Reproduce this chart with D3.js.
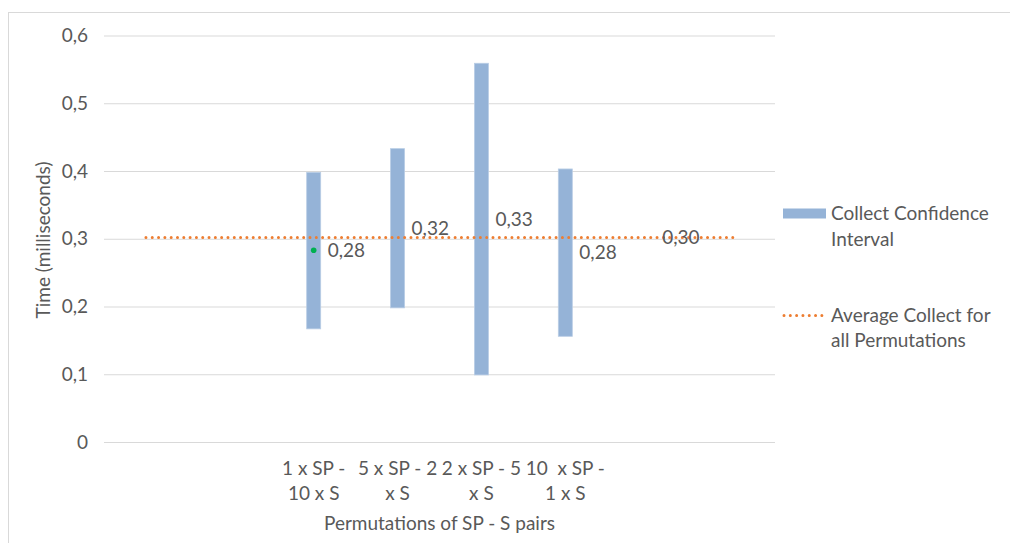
<!DOCTYPE html>
<html>
<head>
<meta charset="utf-8">
<script src="https://cdn.jsdelivr.net/npm/d3@7"></script>
<style>
  html, body { margin: 0; padding: 0; background: #fff; }
  svg text { font-family: Lato, "Noto Sans", sans-serif; fill: #595959; }
</style>
</head>
<body>
<svg id="chart" width="1010" height="543"></svg>
<script>
// Category slots along the x axis (empty slots pad both sides of the plot)
const categories = ["", "", "1 x SP -\n10 x S", "5 x SP - 2\nx S", "2 x SP - 5\nx S", "10  x SP -\n1 x S", "", ""];
// Confidence interval per permutation (slots 2..5)
const intervalSlots = [2, 3, 4, 5];
const intervalLow  = [0.167, 0.198, 0.099, 0.156];
const intervalHigh = [0.398, 0.433, 0.559, 0.403];
const intervalMean = [0.283, 0.316, 0.329, 0.280];
// Average collect time over all permutations, one value per slot
const averageCollect = [0.302, 0.302, 0.302, 0.302, 0.302, 0.302, 0.302, 0.302];
const averageLabelSlot = 6;
// Y axis ticks
const yTicks = [0, 0.1, 0.2, 0.3, 0.4, 0.5, 0.6];

const legendItems = [
  { type: "bar",  lines: ["Collect Confidence", "Interval"] },
  { type: "line", lines: ["Average Collect for", "all Permutations"] }
];

const fmt = v => d3.format(".2f")(v).replace(".", ",");
const fmtTick = v => v === 0 ? "0" : d3.format(".1f")(v).replace(".", ",");

const FS = 19;
const svg = d3.select("#chart");

// chart area frame
svg.append("rect")
  .attr("x", 8.5).attr("y", 12.5)
  .attr("width", 1100).attr("height", 600)
  .attr("fill", "#fff").attr("stroke", "#D9D9D9").attr("stroke-width", 1);

const plotLeft = 104, plotRight = 775;
const x = d3.scaleBand().domain(d3.range(categories.length)).range([plotLeft, plotRight]);
const y = d3.scaleLinear().domain([0, 0.6]).range([442, 35.5]);
const cx = i => x(i) + x.bandwidth() / 2;

// gridlines + y tick labels
const yAxis = d3.axisLeft(y).tickValues(yTicks).tickFormat(fmtTick)
  .tickSize(-(plotRight - plotLeft)).tickPadding(16);
const gy = svg.append("g").attr("transform", `translate(${plotLeft},0)`).call(yAxis);
gy.select(".domain").remove();
gy.selectAll(".tick line").attr("stroke", "#D9D9D9").attr("stroke-width", 1);
gy.selectAll(".tick text").attr("font-size", FS).attr("fill", "#595959")
  .style("font-family", "Lato, sans-serif");

// x category labels (two lines each)
const xl = svg.append("g");
categories.forEach((c, i) => {
  if (!c) return;
  const t = xl.append("text").attr("text-anchor", "middle").attr("font-size", FS)
    .style("white-space", "pre");
  c.split("\n").forEach((ln, k) => {
    t.append("tspan").attr("x", cx(i)).attr("y", 475 + k * 25).text(ln);
  });
});

// axis titles
svg.append("text").attr("x", (plotLeft + plotRight) / 2).attr("y", 530)
  .attr("text-anchor", "middle").attr("font-size", FS)
  .text("Permutations of SP - S pairs");
svg.append("text")
  .attr("transform", "translate(50,240) rotate(-90)")
  .attr("text-anchor", "middle").attr("font-size", FS)
  .text("Time (milliseconds)");

// confidence interval bars
const barW = 14;
svg.append("g").selectAll("rect")
  .data(intervalSlots)
  .join("rect")
  .attr("x", (s) => cx(s) - barW / 2)
  .attr("width", barW)
  .attr("y", (s, i) => y(intervalHigh[i]))
  .attr("height", (s, i) => y(intervalLow[i]) - y(intervalHigh[i]))
  .attr("fill", "#95B3D7")
  .attr("stroke", "#B9CDE5").attr("stroke-width", 0.8);

// average line (dotted)
const line = d3.line().x((d, i) => cx(i)).y(d => y(d));
svg.append("path")
  .datum(averageCollect)
  .attr("d", line)
  .attr("fill", "none")
  .attr("stroke", "#ED7D31")
  .attr("stroke-width", 3)
  .attr("stroke-linecap", "round")
  .attr("stroke-dasharray", "0.01,6.3");

// mean marker on first permutation
svg.append("circle")
  .attr("cx", cx(intervalSlots[0])).attr("cy", y(intervalMean[0]))
  .attr("r", 2.8).attr("fill", "#00B050");

// mean labels
svg.append("g").selectAll("text")
  .data(intervalSlots)
  .join("text")
  .attr("x", s => cx(s) + 14)
  .attr("y", (s, i) => y(intervalMean[i]))
  .attr("dy", "0.35em")
  .attr("font-size", FS)
  .text((s, i) => fmt(intervalMean[i]));

// average label
svg.append("text")
  .attr("x", cx(averageLabelSlot) + 13)
  .attr("y", y(averageCollect[averageLabelSlot]))
  .attr("dy", "0.35em")
  .attr("font-size", FS)
  .text(fmt(averageCollect[averageLabelSlot]));

// legend
const lg = svg.append("g");
legendItems.forEach((item, k) => {
  const top = 220 + k * 101.5;
  if (item.type === "bar") {
    lg.append("rect").attr("x", 783).attr("y", top - 11.5).attr("width", 43).attr("height", 10)
      .attr("fill", "#95B3D7");
  } else {
    lg.append("line").attr("x1", 784).attr("x2", 826)
      .attr("y1", top - 6).attr("y2", top - 6)
      .attr("stroke", "#ED7D31").attr("stroke-width", 3)
      .attr("stroke-linecap", "round").attr("stroke-dasharray", "0.01,6.3");
  }
  const t = lg.append("text").attr("font-size", FS);
  item.lines.forEach((ln, j) => {
    t.append("tspan").attr("x", 831).attr("y", top + j * 25.5).text(ln);
  });
});
</script>
</body>
</html>
